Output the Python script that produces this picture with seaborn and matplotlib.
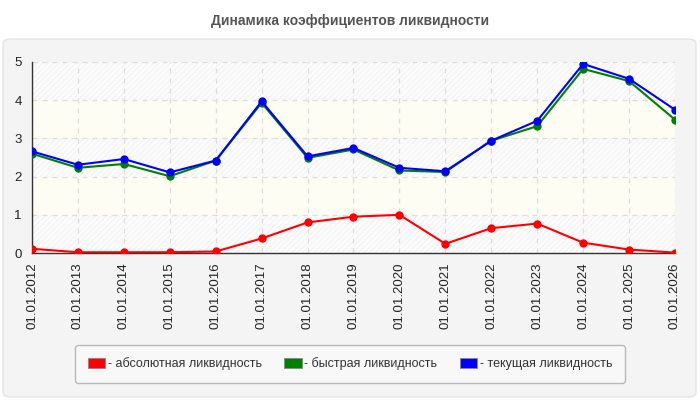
import numpy as np
import pandas as pd
import seaborn as sns
import matplotlib.pyplot as plt
from matplotlib.patches import FancyBboxPatch, Patch

dates = ["01.01.%d" % y for y in range(2012, 2027)]
absolute = [0.11, 0.02, 0.02, 0.02, 0.04, 0.38, 0.80, 0.95, 1.00, 0.24, 0.65, 0.77, 0.27, 0.09, 0.01]
quick = [2.60, 2.23, 2.33, 2.01, 2.42, 3.93, 2.49, 2.71, 2.16, 2.12, 2.94, 3.32, 4.82, 4.50, 3.49]
current = [2.66, 2.31, 2.46, 2.11, 2.42, 3.97, 2.53, 2.75, 2.23, 2.14, 2.94, 3.46, 4.95, 4.56, 3.75]
names = ["- абсолютная ликвидность", "- быстрая ликвидность", "- текущая ликвидность"]
colors = ["#ff0000", "#008000", "#0000ff"]

df = pd.DataFrame({
    "date": dates * 3,
    "value": absolute + quick + current,
    "series": [names[0]] * 15 + [names[1]] * 15 + [names[2]] * 15,
})
df["pos"] = df["date"].map({d: i for i, d in enumerate(dates)})

sns.set_style("white")
plt.rcParams["font.family"] = ["Liberation Sans", "DejaVu Sans"]
plt.rcParams["hatch.linewidth"] = 0.6

fig = plt.figure(figsize=(7, 4), dpi=100)
fig.patch.set_facecolor("white")

# gray panel behind the chart
panel = FancyBboxPatch((3 / 700, 3 / 400), 693 / 700, 358 / 400,
                       boxstyle="round,pad=0,rounding_size=0.012",
                       transform=fig.transFigure, facecolor="#f4f4f4",
                       edgecolor="#e4e4e4", linewidth=1, zorder=-10)
fig.patches.append(panel)

fig.text(0.5, 0.948, "Динамика коэффициентов ликвидности", ha="center", va="center",
         fontsize=10, fontweight="bold", color="#555555")

ax = fig.add_axes([32 / 700, 147 / 400, 643 / 700, 191 / 400])
ax.set_facecolor("#ffffff")

# alternating background bands
for lo in range(5):
    if lo % 2 == 0:
        ax.axhspan(lo, lo + 1, facecolor="#fcfcfc", edgecolor="#efefef",
                   hatch="//////", linewidth=0, zorder=0)
    else:
        ax.axhspan(lo, lo + 1, facecolor="#fdfdf4", linewidth=0, zorder=0)

sns.lineplot(data=df, x="pos", y="value", hue="series", palette=colors,
             marker="o", markersize=6, markeredgewidth=0, linewidth=1.5,
             ax=ax, legend=False, zorder=3)

ax.set_xlim(0, 14)
ax.set_ylim(0, 5)
ax.set_xticks(range(15))
ax.set_xticklabels(dates, rotation=90)
ax.set_yticks(range(6))
ax.tick_params(axis="both", labelsize=9.5, colors="#222222", length=4, width=1, direction="out")
ax.tick_params(axis="x", pad=3)
ax.grid(True, linestyle=(0, (4, 4)), color="#dddddd", linewidth=0.9, zorder=1)
for s in ["top", "right"]:
    ax.spines[s].set_visible(False)
for s in ["left", "bottom"]:
    ax.spines[s].set_color("#333333")
    ax.spines[s].set_linewidth(1)
ax.set_xlabel("")
ax.set_ylabel("")

handles = [Patch(facecolor=c, edgecolor="#888888", linewidth=0.6) for c in colors]
leg = fig.legend(handles, names, loc="center", bbox_to_anchor=(350 / 700, 1 - 364 / 400),
                 ncol=3, fontsize=9, frameon=True, fancybox=True,
                 handlelength=1.4, handleheight=0.8, handletextpad=0.2,
                 columnspacing=1.8, borderpad=1.0)
leg.get_frame().set_facecolor("#fafafa")
leg.get_frame().set_edgecolor("#aaaaaa")
for t in leg.get_texts():
    t.set_color("#333333")

fig.savefig("out.png", dpi=100)
